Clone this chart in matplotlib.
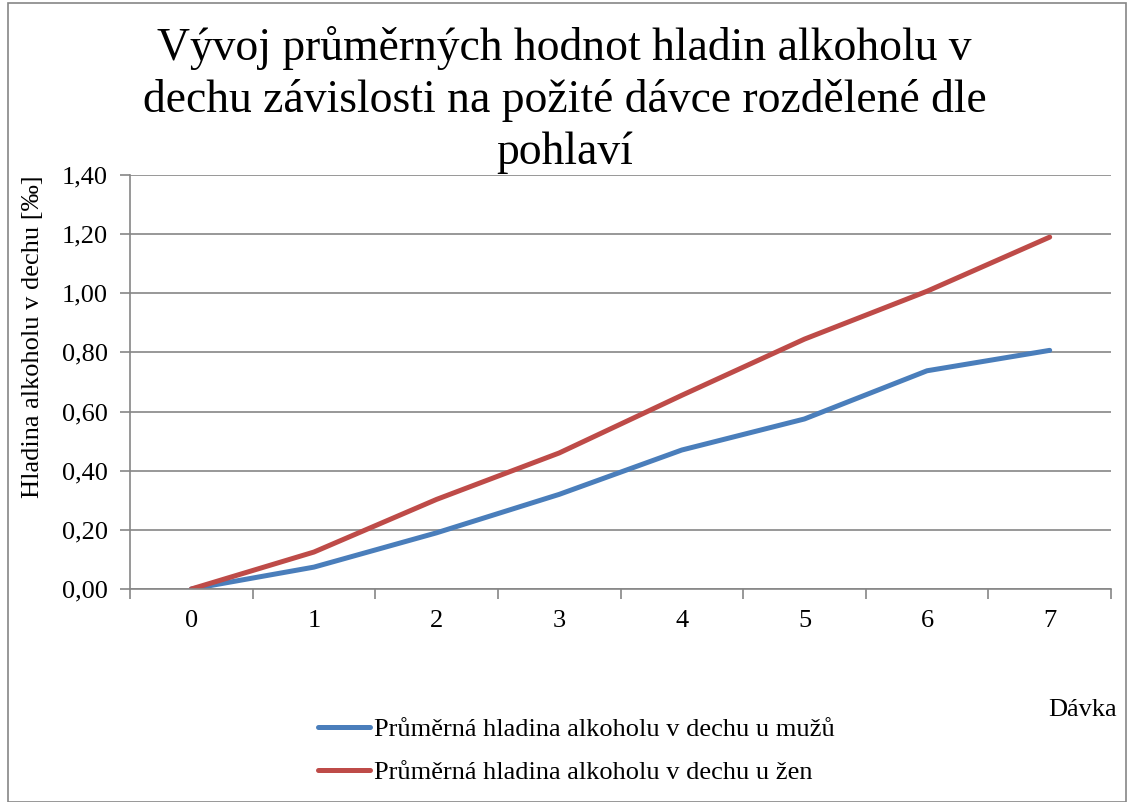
import matplotlib
matplotlib.use("Agg")
import matplotlib.pyplot as plt
from matplotlib.patches import Rectangle
from matplotlib.lines import Line2D

plt.rcParams['font.family'] = ['Liberation Serif', 'DejaVu Serif']

davka = [0, 1, 2, 3, 4, 5, 6, 7]
muzi = [0.00, 0.074, 0.19, 0.32, 0.47, 0.575, 0.738, 0.807]
zeny = [0.00, 0.125, 0.303, 0.46, 0.655, 0.845, 1.007, 1.19]
y_ticks = [0.0, 0.2, 0.4, 0.6, 0.8, 1.0, 1.2, 1.4]

blue = '#4a7ebb'
red = '#be4b48'
grid = '#868686'
fs = 19

fig = plt.figure(figsize=(11.29, 8.02), dpi=100)
fig.patches.append(Rectangle((8 / 1129, 0.0), 1118 / 1129, 1 - 3 / 802,
                             transform=fig.transFigure, fill=False,
                             edgecolor='#868686', linewidth=1.2))

ax = fig.add_axes([130 / 1129, 1 - 589 / 802, 981 / 1129, 414 / 802])
ax.plot(davka, muzi, color=blue, linewidth=3.6, solid_capstyle='round')
ax.plot(davka, zeny, color=red, linewidth=3.6, solid_capstyle='round')

ax.set_xlim(-0.5, 7.5)
ax.set_ylim(0, 1.4)
ax.set_yticks(y_ticks)
ax.set_yticklabels([f"{v:.2f}".replace('.', ',') for v in y_ticks], fontsize=fs)
ax.set_xticks(davka)
ax.set_xticklabels([str(d) for d in davka], fontsize=fs)
ax.set_xticks([i - 0.5 for i in range(9)], minor=True)
ax.tick_params(axis='x', which='major', length=0, pad=15)
ax.tick_params(axis='x', which='minor', length=7, color=grid, width=1.2)
ax.tick_params(axis='y', length=7, color=grid, width=1.2, pad=9)
ax.yaxis.grid(True, color=grid, linewidth=1.2)
ax.set_axisbelow(True)
for s in ['top', 'right']:
    ax.spines[s].set_visible(False)
for s in ['left', 'bottom']:
    ax.spines[s].set_color(grid)
    ax.spines[s].set_linewidth(1.2)

fig.text(0.5, 1 - 100 / 802,
         "Vývoj průměrných hodnot hladin alkoholu v\n"
         "dechu závislosti na požité dávce rozdělené dle\npohlaví",
         ha='center', va='center', fontsize=32.9, linespacing=1.27)

fig.text(33 / 1129, 1 - 337 / 802, "Hladina alkoholu v dechu [‰]",
         rotation=90, ha='center', va='center', fontsize=fs)
fig.text(1117 / 1129, 1 - 710 / 802, "Dávka", ha='right', va='center', fontsize=fs)

handles = [Line2D([], [], color=blue, linewidth=3.6, solid_capstyle='round'),
           Line2D([], [], color=red, linewidth=3.6, solid_capstyle='round')]
fig.legend(handles,
           ["Průměrná hladina alkoholu v dechu u mužů",
            "Průměrná hladina alkoholu v dechu u žen"],
           loc='center left', bbox_to_anchor=(318 / 1129, 1 - 751 / 802),
           frameon=False, fontsize=fs, handlelength=1.97, handletextpad=0.15,
           labelspacing=0.72, borderaxespad=0, borderpad=0)

fig.savefig("out.png", dpi=100)
